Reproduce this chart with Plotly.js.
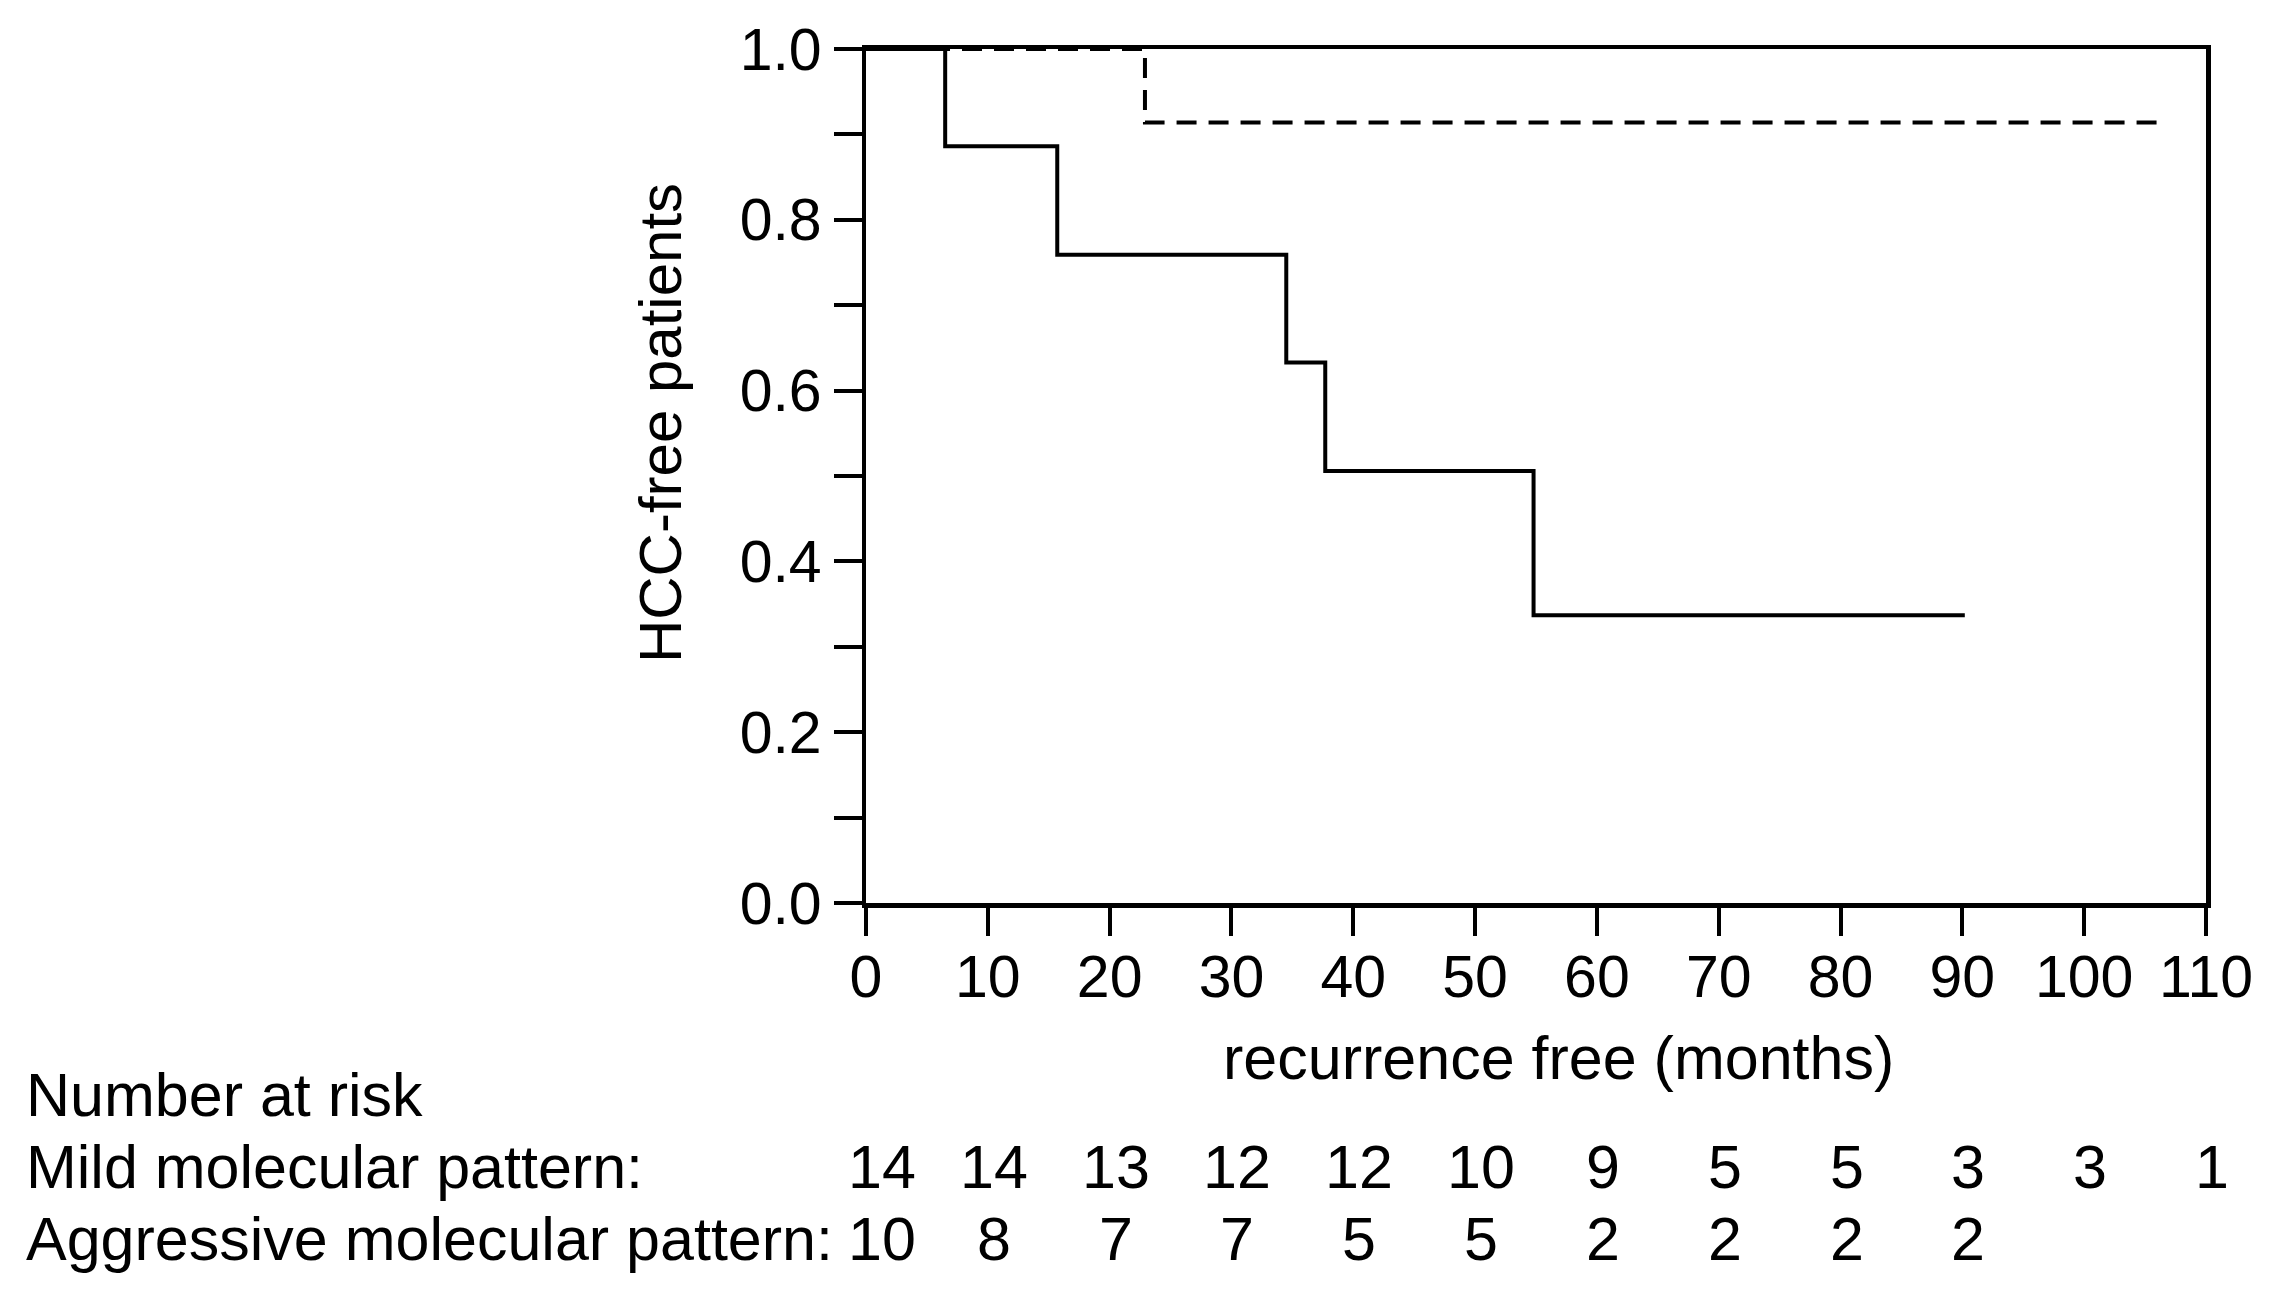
<!DOCTYPE html>
<html>
<head>
<meta charset="utf-8">
<script src="https://cdn.plot.ly/plotly-3.0.1.min.js"></script>
<style>
html,body{margin:0;padding:0;background:#fff;}
#chart{width:2278px;height:1289px;}
</style>
</head>
<body>
<div id="chart"></div>
<script>
// Kaplan-Meier step curves (months, HCC-free proportion)
var mildMonths = [0, 22.9, 106.4];
var mildSurvival = [1.0, 0.914, 0.914];
var aggrMonths = [0, 6.5, 15.7, 34.5, 37.7, 54.8, 90.2];
var aggrSurvival = [1.0, 0.886, 0.759, 0.633, 0.506, 0.337, 0.337];

// Axis ticks
var xTickVals = [0, 10, 20, 30, 40, 50, 60, 70, 80, 90, 100, 110];
var xTickText = ['0','10','20','30','40','50','60','70','80','90','100','110'];
var yTickVals = [0, 0.1, 0.2, 0.3, 0.4, 0.5, 0.6, 0.7, 0.8, 0.9, 1.0];
var yTickText = ['0.0','','0.2','','0.4','','0.6','','0.8','','1.0'];

// Number at risk table
var riskTimes = [0, 10, 20, 30, 40, 50, 60, 70, 80, 90, 100, 110];
var riskMild = [14, 14, 13, 12, 12, 10, 9, 5, 5, 3, 3, 1];
var riskAggr = [10, 8, 7, 7, 5, 5, 2, 2, 2, 2];
var riskHeader = 'Number at risk';
var rowLabels = ['Mild molecular pattern:', 'Aggressive molecular pattern:'];

var xTitle = 'recurrence free (months)';
var yTitle = 'HCC-free patients';

var FONT = 'Liberation Sans, Arial, Helvetica, sans-serif';

var traces = [
  {
    x: mildMonths, y: mildSurvival, type: 'scatter', mode: 'lines',
    line: {shape: 'hv', color: '#000', width: 4, dash: '20px,12px'},
    cliponaxis: false, showlegend: false, hoverinfo: 'skip'
  },
  {
    x: aggrMonths, y: aggrSurvival, type: 'scatter', mode: 'lines',
    line: {shape: 'hv', color: '#000', width: 4},
    cliponaxis: false, showlegend: false, hoverinfo: 'skip'
  }
];

var annotations = [];
function txt(x, y, text, opts) {
  var a = {
    xref: 'paper', yref: 'paper', x: x, y: y, text: text,
    showarrow: false, xanchor: 'left', yanchor: 'middle',
    font: {family: FONT, size: 61, color: '#000'}
  };
  for (var k in (opts || {})) a[k] = opts[k];
  annotations.push(a);
}
// axis titles
txt(0.517, -0.181, xTitle, {xanchor: 'center'});
txt(-0.1537, 0.562, yTitle, {xanchor: 'center', textangle: -90, font: {family: FONT, size: 60, color: '#000'}});
// risk table labels
txt(-0.628, -0.2248, riskHeader);
txt(-0.628, -0.309, rowLabels[0]);
txt(-0.628, -0.393, rowLabels[1]);
// risk numbers at each time point
function riskRow(values, yPaper) {
  for (var i = 0; i < values.length; i++) {
    annotations.push({
      xref: 'x', yref: 'paper', x: riskTimes[i], y: yPaper,
      text: String(values[i]), showarrow: false,
      xanchor: 'center', yanchor: 'middle', xshift: (i === 0 ? 16 : 6),
      font: {family: FONT, size: 61, color: '#000'}
    });
  }
}
riskRow(riskMild, -0.309);
riskRow(riskAggr, -0.393);

var layout = {
  width: 2278, height: 1289,
  margin: {l: 866, r: 72, t: 49, b: 386, pad: 0},
  paper_bgcolor: '#fff', plot_bgcolor: '#fff',
  showlegend: false,
  font: {family: FONT, color: '#000'},
  xaxis: {
    range: [0, 110], fixedrange: true,
    tickmode: 'array', tickvals: xTickVals, ticktext: xTickText,
    ticks: 'outside', ticklen: 28, tickwidth: 4, tickcolor: '#000',
    ticklabelstandoff: -9,
    showline: true, linewidth: 4.5, linecolor: '#000', mirror: true,
    showgrid: false, zeroline: false,
    tickfont: {family: FONT, size: 59, color: '#000'}
  },
  yaxis: {
    range: [0, 1], fixedrange: true,
    tickmode: 'array', tickvals: yTickVals, ticktext: yTickText,
    ticks: 'outside', ticklen: 28, tickwidth: 4, tickcolor: '#000',
    showline: true, linewidth: 4.5, linecolor: '#000', mirror: true,
    showgrid: false, zeroline: false,
    tickfont: {family: FONT, size: 59, color: '#000'}
  },
  annotations: annotations
};

Plotly.newPlot('chart', traces, layout, {staticPlot: true, displayModeBar: false});
</script>
</body>
</html>
